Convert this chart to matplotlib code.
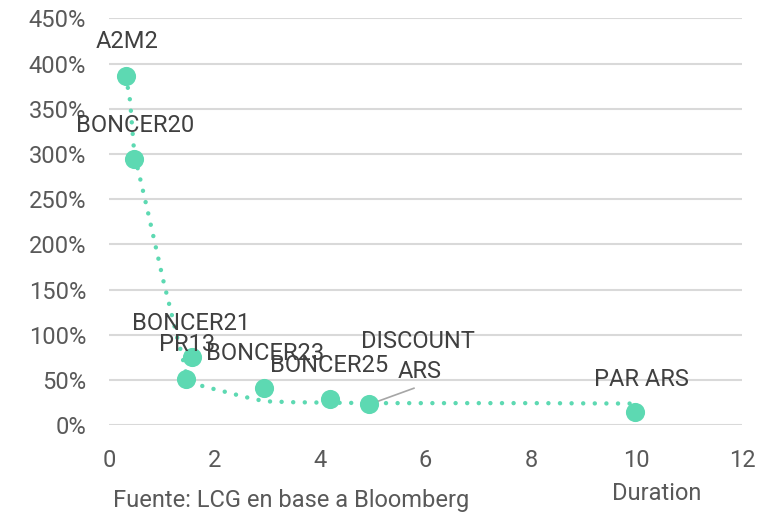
import matplotlib
matplotlib.use("Agg")
import matplotlib.pyplot as plt
from matplotlib.ticker import FuncFormatter, MultipleLocator

plt.rcParams['font.family'] = ['Roboto', 'DejaVu Sans']

# Bond data: duration (years) and yield (%)
names = ["A2M2", "BONCER20", "BONCER21", "PR13", "BONCER23", "BONCER25", "DISCOUNT", "PAR ARS"]
duration = [0.32, 0.48, 1.58, 1.46, 2.93, 4.18, 4.93, 9.97]
yields = [386, 294, 76, 51, 41, 29, 23, 14.5]

# Trend curve
trend_x = [0.32, 0.40, 0.48, 0.57, 0.73, 0.88, 1.03, 1.20, 1.30, 1.37, 1.46, 1.63, 1.85, 2.07, 2.29, 2.53, 2.75, 2.97, 3.5, 4.2, 5.0, 6.0, 8.0, 10.0]
trend_y = [386, 359, 300, 278, 238, 199, 160, 120, 95, 81, 58, 46, 42, 39, 35.7, 32, 29, 26.5, 25.5, 25, 24.5, 24.5, 24.5, 24]

# Label centre positions in data coords
label_x = [0.34, 0.49, 1.56, 1.48, 2.95, 4.18, 5.86, 10.1]
label_y = [425, 332, 113, 89, 79, 66, 93, 51]

green = "#5DD9B2"
fig = plt.figure(figsize=(7.74, 5.13), dpi=100)
ax = fig.add_axes([0.1408, 0.171, 0.818, 0.793])

ax.plot(trend_x, trend_y, color=green, lw=3.2, linestyle=(0, (0.01, 2.6)),
        dash_capstyle='round', zorder=2)
ax.scatter(duration, yields, s=190, color=green, zorder=3, linewidths=0)

for n, lx, ly in zip(names, label_x, label_y):
    ax.text(lx, ly, n, ha='center', va='center', fontsize=17, color='#404040', zorder=4)
# second line of the DISCOUNT ARS label
ax.text(5.88, 60, "ARS", ha='center', va='center', fontsize=17, color='#404040', zorder=4)

# leader line for DISCOUNT ARS
ax.plot([duration[6], 5.78], [yields[6], 41], color='#A6A6A6', lw=1.2, zorder=2.5)

ax.set_xlim(0, 12)
ax.set_ylim(0, 450)
ax.xaxis.set_major_locator(MultipleLocator(2))
ax.yaxis.set_major_locator(MultipleLocator(50))
ax.yaxis.set_major_formatter(FuncFormatter(lambda v, p: f"{v:.0f}%"))
ax.grid(axis='y', color='#D9D9D9', lw=1.5)
ax.set_axisbelow(True)
for s in ax.spines.values():
    s.set_visible(False)
ax.tick_params(length=0, labelsize=17, labelcolor='#595959')
ax.tick_params(axis='y', pad=16.5)
ax.tick_params(axis='x', pad=17)

fig.text(291 / 774, 1 - 500 / 513, "Fuente: LCG en base a Bloomberg", ha='center', va='center',
         fontsize=17, color='#595959')
fig.text(657 / 774, 1 - 493 / 513, "Duration", ha='center', va='center',
         fontsize=17, color='#595959')

fig.savefig("out.png", dpi=100, facecolor='white')
